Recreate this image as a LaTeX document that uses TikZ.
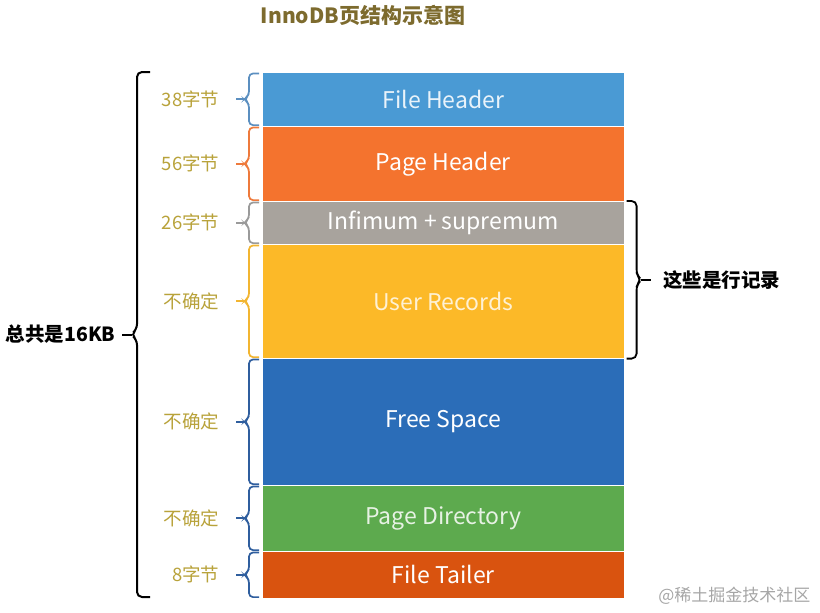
\documentclass[tikz,border=0pt]{standalone}
\usepackage{fontspec}
\setmainfont{Noto Sans CJK SC}
\usetikzlibrary{calc}
\definecolor{cFH}{HTML}{4A9AD4}
\definecolor{cPH}{HTML}{F4732E}
\definecolor{cIN}{HTML}{A8A39D}
\definecolor{cUR}{HTML}{FCB928}
\definecolor{cFS}{HTML}{2B6DB8}
\definecolor{cPD}{HTML}{5DAA4E}
\definecolor{cFT}{HTML}{D9530F}
\definecolor{bFH}{HTML}{5B8FC0}
\definecolor{bPH}{HTML}{EE7A3C}
\definecolor{bIN}{HTML}{9A9A9A}
\definecolor{bUR}{HTML}{F2B531}
\definecolor{bLO}{HTML}{2F5E9E}
\definecolor{lab}{HTML}{B8A23A}
\definecolor{ttl}{HTML}{7D6B2E}
\begin{document}
\begin{tikzpicture}[x=1pt,y=-1pt,
  blk/.style={draw=white,line width=0.6pt,anchor=north west,minimum width=362pt,inner sep=0pt,text=white,font=\fontsize{23}{27}\selectfont},
  sbr/.style={line width=1.7pt,rounded corners=4pt},
  szlab/.style={anchor=east,text=lab,font=\fontsize{18.5}{22}\selectfont},
  blab/.style={font=\bfseries\fontsize{19.5}{23}\selectfont}]
\useasboundingbox (0,0) rectangle (820,613);
\node[font=\bfseries\fontsize{21}{25}\selectfont,text=ttl] (title) at (363,15) {InnoDB页结构示意图};
% blocks
\node[blk,fill=cFH,minimum height=54pt,text=white!88!cFH] (fh) at (262,72) {File Header};
\node[blk,fill=cPH,minimum height=75pt] (ph) at (262,126) {Page Header};
\node[blk,fill=cIN,minimum height=43pt] (in) at (262,201) {Infimum + supremum};
\node[blk,fill=cUR,minimum height=114pt,text=white!80!cUR] (ur) at (262,244) {User Records};
\node[blk,fill=cFS,minimum height=127pt] (fs) at (262,358) {Free Space};
\node[blk,fill=cPD,minimum height=66pt,text=white!85!cPD] (pd) at (262,485) {Page Directory};
\node[blk,fill=cFT,minimum height=47pt] (ft) at (262,551) {File Tailer};
% small braces on the left
\foreach \b/\c/\t in {fh/bFH/38字节, ph/bPH/56字节, in/bIN/26字节, ur/bUR/不确定, fs/bLO/不确定, pd/bLO/不确定, ft/bLO/8字节}{
  \draw[sbr,draw=\c] let \p1=(\b.north west), \p2=(\b.south west) in
     (\x1-3pt,\y1-1.5pt) -- (\x1-13pt,\y1-1.5pt) -- (\x1-13pt,{(\y1+\y2)/2+4pt}) -- (\x1-18pt,{(\y1+\y2)/2})
     -- (\x1-13pt,{(\y1+\y2)/2-4pt}) -- (\x1-13pt,\y2+1.5pt) -- (\x1-3pt,\y2+1.5pt);
  \coordinate (tip\b) at ([xshift=-17pt]\b.west);
  \draw[line width=1.7pt,draw=\c] (tip\b) -- ++(-9pt,0) coordinate (e\b);
  \node[szlab] (l\b) at ([xshift=-13pt]e\b) {\t};
}
% big left brace
\coordinate (bt) at (150,72);
\coordinate (bb) at (150,597);
\draw[line width=2pt,rounded corners=5pt] (bt) -- (137,72) -- (137,329) -- (131,334.5) -- (137,340) -- (137,597) -- (bb);
\coordinate (btip) at (132,334.5);
\draw[line width=2pt] (btip) -- ++(-10pt,0) coordinate (bend);
\node[blab,anchor=east] (total) at ([xshift=-3pt]bend) {总共是16KB};
% right brace
\draw[line width=1.8pt,rounded corners=5pt] let \p1=(in.north east), \p2=(ur.south east) in
  (\x1+2pt,\y1) -- (\x1+12pt,\y1) -- (\x1+12pt,{(\y1+\y2)/2+5pt}) -- (\x1+17pt,{(\y1+\y2)/2})
  -- (\x1+12pt,{(\y1+\y2)/2-5pt}) -- (\x1+12pt,\y2) -- (\x1+2pt,\y2);
\coordinate (rtip) at ($(in.north east)!0.5!(ur.south east)+(16pt,0)$);
\draw[line width=1.8pt] (rtip) -- ++(10pt,0) coordinate (rend);
\node[blab,anchor=west] (rows) at ([xshift=9pt]rend) {这些是行记录};
% watermark
\node[anchor=east,text=black!35,font=\fontsize{17}{20}\selectfont] (wm) at (814,596) {@稀土掘金技术社区};
\end{tikzpicture}
\end{document}
